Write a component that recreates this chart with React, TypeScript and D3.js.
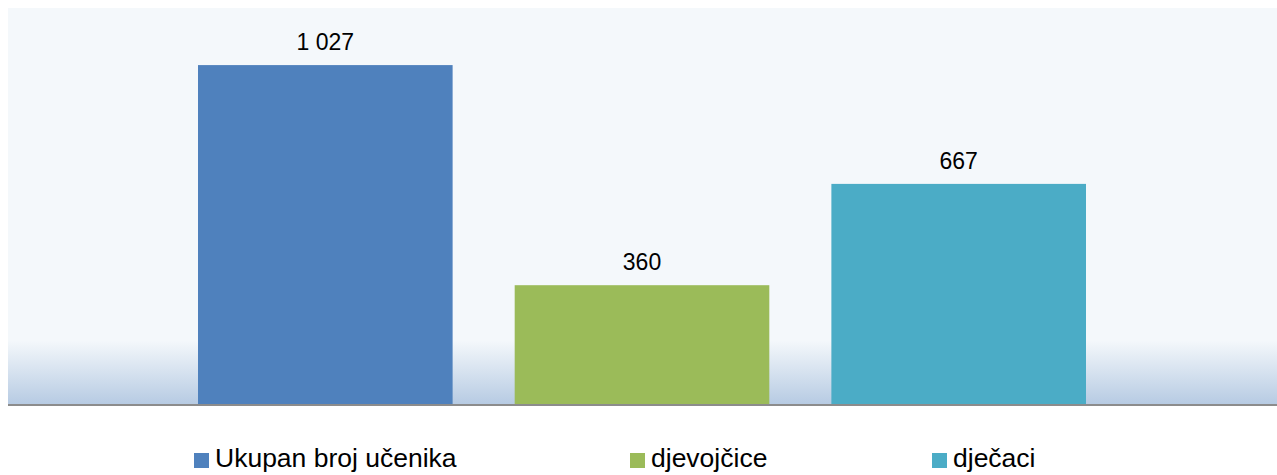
import React from "react";
import * as d3 from "d3";

const seriesNames = ["Ukupan broj učenika", "djevojčice", "dječaci"];
const seriesValues = [1027, 360, 667];
const valueLabels = ["1 027", "360", "667"];
const seriesColors = ["#4F81BD", "#9BBB59", "#4BACC6"];
const yDomain = [0, 1200];

const W = 1277;
const H = 475;
const plot = { left: 8, right: 1277, top: 8, bottom: 404 };
const legendX = [194, 630, 932];

export default function App() {
  const y = d3.scaleLinear().domain(yDomain).range([plot.bottom, plot.top]);
  const x = d3
    .scaleBand<string>()
    .domain(seriesNames)
    .range([198, 1086])
    .paddingInner(0.196)
    .paddingOuter(0);

  return (
    <svg
      width={W}
      height={H}
      style={{ position: "absolute", left: 0, top: 0, fontFamily: "Liberation Sans, Arial, sans-serif" }}
    >
      <defs>
        <linearGradient id="bgGrad" x1="0" y1="0" x2="0" y2="1">
          <stop offset="0" stopColor="#F4F8FB" />
          <stop offset="0.84" stopColor="#F4F8FB" />
          <stop offset="1" stopColor="#B7CBE3" />
        </linearGradient>
      </defs>
      <rect x={0} y={0} width={W} height={H} fill="#FFFFFF" />
      <rect
        x={plot.left}
        y={plot.top}
        width={plot.right - plot.left}
        height={plot.bottom - plot.top}
        fill="url(#bgGrad)"
      />
      {seriesNames.map((s, i) => (
        <rect
          key={s}
          x={x(s)}
          y={y(seriesValues[i])}
          width={x.bandwidth()}
          height={y(0) - y(seriesValues[i])}
          fill={seriesColors[i]}
        />
      ))}
      <line x1={plot.left} x2={plot.right} y1={405} y2={405} stroke="#8C8C8C" strokeWidth={2} />
      {seriesNames.map((s, i) => (
        <text
          key={s + "l"}
          x={(x(s) as number) + x.bandwidth() / 2}
          y={y(seriesValues[i]) - 15}
          textAnchor="middle"
          fontSize={23}
          fill="#000"
        >
          {valueLabels[i]}
        </text>
      ))}
      {seriesNames.map((s, i) => (
        <g key={s + "g"} transform={`translate(${legendX[i]},0)`}>
          <rect x={0} y={453} width={15} height={15} fill={seriesColors[i]} />
          <text x={21} y={467} fontSize={26.5} fill="#000">
            {s}
          </text>
        </g>
      ))}
    </svg>
  );
}
